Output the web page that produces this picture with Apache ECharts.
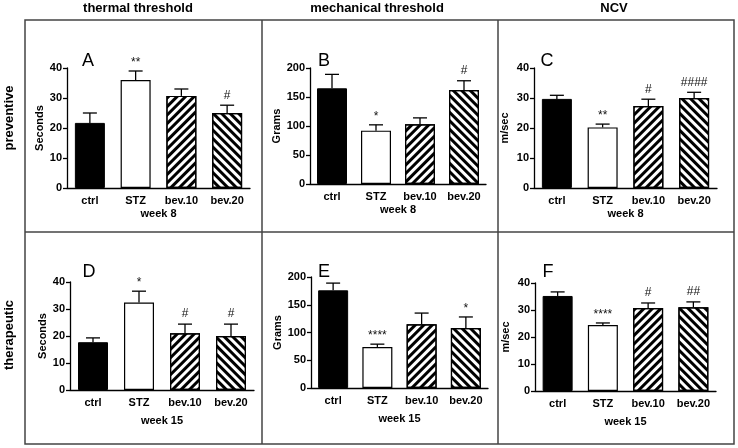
<!DOCTYPE html>
<html>
<head>
<meta charset="utf-8">
<script src="https://cdn.jsdelivr.net/npm/echarts@6/dist/echarts.min.js"></script>
<style>
  html, body { margin: 0; padding: 0; background: #fff; }
  #chart { width: 738px; height: 448px; }
</style>
</head>
<body>
<div id="chart"></div>
<script>
// groups on every x axis
var groups = ['ctrl', 'STZ', 'bev.10', 'bev.20'];

// week 8 (preventive)
var thermalW8 = [21.7, 36.0, 30.7, 25.0];
var thermalW8Sem = [3.3, 3.0, 2.3, 2.6];
var mechW8 = [165, 92, 103, 162];
var mechW8Sem = [24, 10, 11, 16];
var ncvW8 = [29.7, 20.2, 27.3, 30.0];
var ncvW8Sem = [1.2, 1.1, 2.3, 1.9];

// week 15 (therapeutic)
var thermalW15 = [17.7, 32.4, 21.0, 20.0];
var thermalW15Sem = [1.6, 4.2, 3.4, 4.4];
var mechW15 = [176, 74, 115, 108];
var mechW15Sem = [13, 5, 20, 20];
var ncvW15 = [35.2, 24.4, 30.7, 31.0];
var ncvW15Sem = [1.5, 0.8, 1.9, 2.0];

// significance marks
var marksA = ['', '**', '', '#'];
var marksB = ['', '*', '', '#'];
var marksC = ['', '**', '#', '####'];
var marksD = ['', '*', '#', '#'];
var marksE = ['', '****', '', '*'];
var marksF = ['', '****', '#', '##'];

// axis ticks
var secTicks = [0, 10, 20, 30, 40];
var gramTicks = [0, 50, 100, 150, 200];

var font = 'Liberation Sans, Arial, sans-serif';

var panels = [
  {letter: 'A', mean: thermalW8, sem: thermalW8Sem, marks: marksA, ticks: secTicks, unit: 'Seconds', week: 'week 8',
   grid: {left: 67, top: 68, width: 183, height: 120}, nameGap: 20},
  {letter: 'B', mean: mechW8, sem: mechW8Sem, marks: marksB, ticks: gramTicks, unit: 'Grams', week: 'week 8',
   grid: {left: 310, top: 68, width: 176, height: 116}, nameGap: 27},
  {letter: 'C', mean: ncvW8, sem: ncvW8Sem, marks: marksC, ticks: secTicks, unit: 'm/sec', week: 'week 8',
   grid: {left: 534, top: 68, width: 183, height: 120}, nameGap: 24},
  {letter: 'D', mean: thermalW15, sem: thermalW15Sem, marks: marksD, ticks: secTicks, unit: 'Seconds', week: 'week 15',
   grid: {left: 70, top: 282, width: 184, height: 108}, nameGap: 21},
  {letter: 'E', mean: mechW15, sem: mechW15Sem, marks: marksE, ticks: gramTicks, unit: 'Grams', week: 'week 15',
   grid: {left: 311, top: 277, width: 177, height: 111}, nameGap: 27},
  {letter: 'F', mean: ncvW15, sem: ncvW15Sem, marks: marksF, ticks: secTicks, unit: 'm/sec', week: 'week 15',
   grid: {left: 535, top: 283, width: 181, height: 108}, nameGap: 24}
];

/*-----bar styles-----*/
// pattern rotation is clockwise on screen: -45deg gives '/', +45deg gives '\'
function hatch(rot) {
  return {
    symbol: 'rect',
    symbolSize: 1,
    dashArrayX: [1, 0],
    dashArrayY: [2.5, 2.5],
    rotation: rot,
    color: '#000'
  };
}
var barStyles = [
  {color: '#000', borderColor: '#000', borderWidth: 1},
  {color: '#fff', borderColor: '#000', borderWidth: 1.2},
  {color: '#fff', borderColor: '#000', borderWidth: 1.2, decal: hatch(-Math.PI / 4)},
  {color: '#fff', borderColor: '#000', borderWidth: 1.2, decal: hatch(Math.PI / 4)}
];

function renderErr(params, api) {
  var i = api.value(0);
  var base = api.coord([i, api.value(1)]);
  var top = api.coord([i, api.value(2)]);
  var mark = panels[params.seriesIndex / 2 | 0].marks[params.dataIndex];
  var isHash = mark.indexOf('#') >= 0;
  return {
    type: 'group',
    children: [
      {type: 'line', shape: {x1: base[0], y1: base[1], x2: top[0], y2: top[1]},
       style: {stroke: '#000', lineWidth: 1.3}},
      {type: 'line', shape: {x1: top[0] - 7, y1: top[1], x2: top[0] + 7, y2: top[1]},
       style: {stroke: '#000', lineWidth: 1.3}},
      {type: 'text', x: top[0], y: top[1] - (isHash ? 4 : 2),
       style: {text: mark, align: 'center', verticalAlign: 'bottom', fontSize: 12,
               fontFamily: font, fill: '#111'}}
    ]
  };
}

var grids = [], xAxes = [], yAxes = [], series = [];
panels.forEach(function(p, k) {
  grids.push(p.grid);
  xAxes.push({
    type: 'category', gridIndex: k, data: groups,
    axisLine: {lineStyle: {color: '#000', width: 1.3}},
    axisTick: {show: false},
    axisLabel: {color: '#000', fontWeight: 'bold', fontSize: 11, fontFamily: font, margin: 7},
    name: p.week, nameLocation: 'middle', nameGap: k < 3 ? 20 : 25,
    nameTextStyle: {color: '#000', fontWeight: 'bold', fontSize: 11, fontFamily: font}
  });
  yAxes.push({
    type: 'value', gridIndex: k, min: p.ticks[0], max: p.ticks[p.ticks.length - 1],
    interval: p.ticks[1] - p.ticks[0],
    axisLine: {show: true, lineStyle: {color: '#000', width: 1.3}},
    axisTick: {show: true, length: 4, lineStyle: {color: '#000', width: 1.3}},
    splitLine: {show: false},
    axisLabel: {color: '#000', fontWeight: 'bold', fontSize: 11, fontFamily: font, margin: 5},
    name: p.unit, nameLocation: 'middle', nameGap: p.nameGap,
    nameTextStyle: {color: '#000', fontWeight: 'bold', fontSize: 11, fontFamily: font}
  });
  series.push({
    type: 'bar', xAxisIndex: k, yAxisIndex: k, barWidth: 30,
    data: p.mean.map(function(v, i) { return {value: v, itemStyle: barStyles[i]}; }),
    z: 2
  });
  series.push({
    type: 'custom', xAxisIndex: k, yAxisIndex: k, renderItem: renderErr,
    data: p.mean.map(function(v, i) { return [i, v, v + p.sem[i]]; }),
    z: 3
  });
});

/*-----frame and labels-----*/
var frame = '#444';
var graphic = [
  {type: 'rect', shape: {x: 25, y: 20, width: 709, height: 424}, style: {fill: 'none', stroke: frame, lineWidth: 1.5}},
  {type: 'line', shape: {x1: 262, y1: 20, x2: 262, y2: 444}, style: {stroke: frame, lineWidth: 1.5}},
  {type: 'line', shape: {x1: 498, y1: 20, x2: 498, y2: 444}, style: {stroke: frame, lineWidth: 1.5}},
  {type: 'line', shape: {x1: 25, y1: 232, x2: 734, y2: 232}, style: {stroke: frame, lineWidth: 1.5}}
];
function label(txt, x, y, size, bold, rot) {
  graphic.push({
    type: 'text', x: x, y: y, rotation: rot || 0,
    style: {text: txt, align: 'center', verticalAlign: 'middle', fontSize: size,
            fontWeight: bold ? 'bold' : 'normal', fontFamily: font, fill: '#000'}
  });
}
label('thermal threshold', 138, 8, 13, true);
label('mechanical threshold', 377, 8, 13, true);
label('NCV', 614, 8, 13, true);
label('preventive', 9, 118, 13, true, Math.PI / 2);
label('therapeutic', 9, 335, 13, true, Math.PI / 2);
var letterPos = [[88, 61], [324, 61], [547, 61], [89, 272], [324, 272], [548, 272]];
panels.forEach(function(p, k) { label(p.letter, letterPos[k][0], letterPos[k][1], 18, false); });

var chart = echarts.init(document.getElementById('chart'));
chart.setOption({
  animation: false,
  grid: grids,
  xAxis: xAxes,
  yAxis: yAxes,
  series: series,
  graphic: graphic
});
</script>
</body>
</html>
